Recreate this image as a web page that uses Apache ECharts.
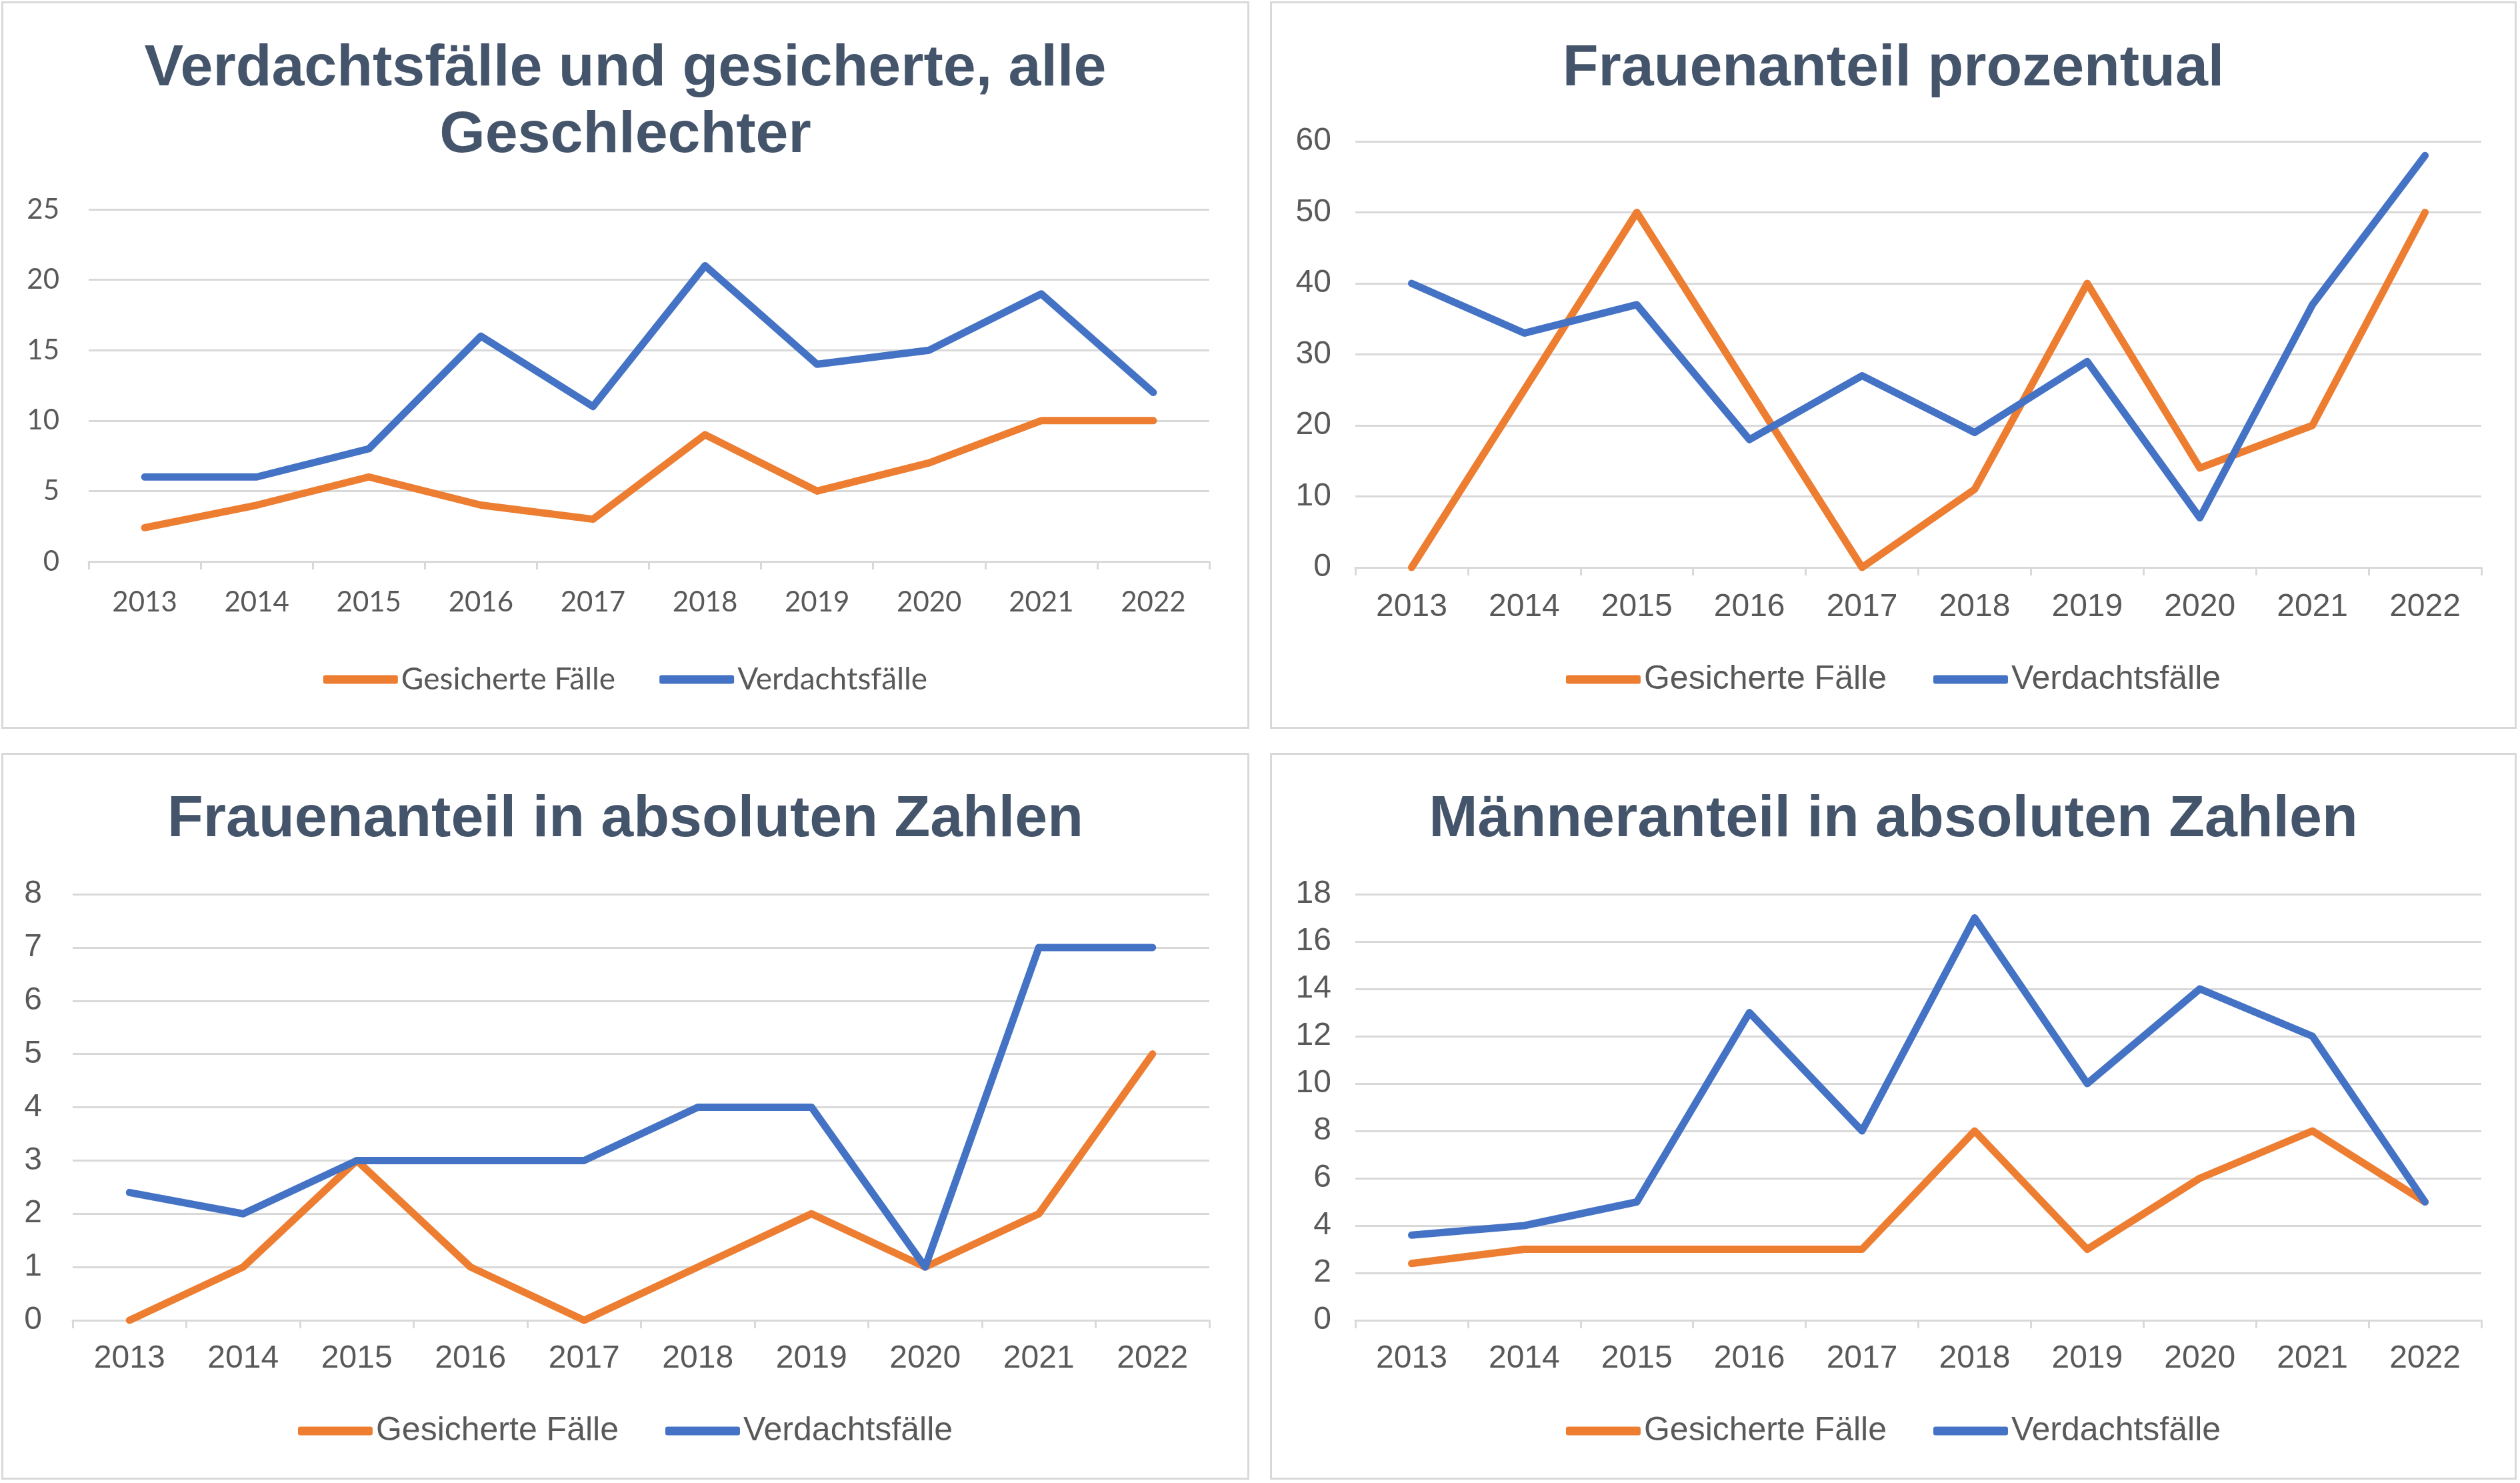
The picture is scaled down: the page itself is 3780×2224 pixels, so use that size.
<!DOCTYPE html>
<html>
<head>
<meta charset="utf-8">
<script src="https://cdn.jsdelivr.net/npm/echarts@6/dist/echarts.min.js"></script>
<style>
  body { margin: 0; background: #fff; }
  .panel { position: absolute; box-sizing: border-box; border: 3px solid #d9d9d9; background: #fff; }
</style>
</head>
<body>
<div class="panel" id="c1" style="left:2px;top:2px;width:1872px;height:1091px"></div>
<div class="panel" id="c2" style="left:1905px;top:2px;width:1870px;height:1091px"></div>
<div class="panel" id="c3" style="left:2px;top:1129px;width:1872px;height:1090px"></div>
<div class="panel" id="c4" style="left:1905px;top:1129px;width:1870px;height:1090px"></div>
<script>
// Jahre
const years = ['2013', '2014', '2015', '2016', '2017', '2018', '2019', '2020', '2021', '2022']

// alle Geschlechter
const alleGesichert = [2.4, 4, 6, 4, 3, 9, 5, 7, 10, 10]
const alleVerdacht = [6, 6, 8, 16, 11, 21, 14, 15, 19, 12]

// Frauenanteil prozentual
const prozGesichert = [0, 25, 50, 25, 0, 11, 40, 14, 20, 50]
const prozVerdacht = [40, 33, 37, 18, 27, 19, 29, 7, 37, 58]

// Frauen absolut
const frauenGesichert = [0, 1, 3, 1, 0, 1, 2, 1, 2, 5]
const frauenVerdacht = [2.4, 2, 3, 3, 3, 4, 4, 1, 7, 7]

// Männer absolut
const maennerGesichert = [2.4, 3, 3, 3, 3, 8, 3, 6, 8, 5]
const maennerVerdacht = [3.6, 4, 5, 13, 8, 17, 10, 14, 12, 5]

const ORANGE = '#ED7D31'
const BLUE = '#4472C4'
const GRID = '#d9d9d9'
const LABEL = '#595959'

function makeOption(cfg) {
    const font = cfg.font || 'Liberation Sans, Arial, sans-serif'
    const fs = cfg.fontSize || 48
    return {
        animation: false,
        title: {
            text: cfg.title,
            left: 'center',
            top: cfg.titleTop,
            textStyle: {
                fontFamily: 'Liberation Sans, Arial, sans-serif',
                fontWeight: 'bold',
                fontSize: 88,
                lineHeight: 100,
                color: '#44546A'
            }
        },
        legend: {
            data: ['Gesicherte Fälle', 'Verdachtsfälle'],
            left: 'center',
            top: cfg.legendTop,
            icon: 'roundRect',
            itemWidth: 112,
            itemHeight: 13,
            itemGap: cfg.legendGap || 70,
            textStyle: { fontFamily: font, fontSize: cfg.legendSize || 50, color: LABEL }
        },
        grid: cfg.grid,
        xAxis: {
            type: 'category',
            data: years,
            boundaryGap: true,
            axisLine: { lineStyle: { color: GRID, width: 3 } },
            axisTick: { show: true, length: 12, lineStyle: { color: GRID, width: 3 } },
            axisLabel: { fontFamily: font, fontSize: fs, color: LABEL, margin: cfg.xMargin }
        },
        yAxis: {
            type: 'value',
            min: 0,
            max: cfg.max,
            interval: cfg.interval,
            axisLine: { show: false },
            axisTick: { show: false },
            splitLine: { lineStyle: { color: GRID, width: 3 } },
            axisLabel: { fontFamily: font, fontSize: fs, color: LABEL, margin: cfg.yMargin }
        },
        series: [
            {
                name: 'Gesicherte Fälle',
                type: 'line',
                data: cfg.gesichert,
                showSymbol: false,
                color: ORANGE,
                lineStyle: { width: 11, color: ORANGE, cap: 'round', join: 'round' }
            },
            {
                name: 'Verdachtsfälle',
                type: 'line',
                data: cfg.verdacht,
                showSymbol: false,
                color: BLUE,
                lineStyle: { width: 11, color: BLUE, cap: 'round', join: 'round' }
            }
        ]
    }
}

const configs = [
    {
        id: 'c1',
        title: 'Verdachtsfälle und gesicherte, alle\nGeschlechter',
        titleTop: 44,
        font: 'Lato, Liberation Sans, sans-serif',
        fontSize: 42,
        legendSize: 46,
        legendTop: 986,
        legendGap: 66,
        grid: { left: 128, right: 57, top: 309, bottom: 248 },
        xMargin: 40,
        yMargin: 44,
        max: 25, interval: 5,
        gesichert: alleGesichert, verdacht: alleVerdacht
    },
    {
        id: 'c2',
        title: 'Frauenanteil prozentual',
        titleTop: 44,
        legendTop: 984,
        grid: { left: 125, right: 50, top: 207, bottom: 239 },
        xMargin: 36,
        yMargin: 36,
        max: 60, interval: 10,
        gesichert: prozGesichert, verdacht: prozVerdacht
    },
    {
        id: 'c3',
        title: 'Frauenanteil in absoluten Zahlen',
        titleTop: 43,
        legendTop: 984,
        grid: { left: 104, right: 57, top: 209, bottom: 236 },
        xMargin: 34,
        yMargin: 46,
        max: 8, interval: 1,
        gesichert: frauenGesichert, verdacht: frauenVerdacht
    },
    {
        id: 'c4',
        title: 'Männeranteil in absoluten Zahlen',
        titleTop: 43,
        legendTop: 984,
        grid: { left: 125, right: 50, top: 209, bottom: 236 },
        xMargin: 34,
        yMargin: 36,
        max: 18, interval: 2,
        gesichert: maennerGesichert, verdacht: maennerVerdacht
    }
]

configs.forEach(cfg => {
    const chart = echarts.init(document.getElementById(cfg.id))
    chart.setOption(makeOption(cfg))
})
</script>
</body>
</html>
